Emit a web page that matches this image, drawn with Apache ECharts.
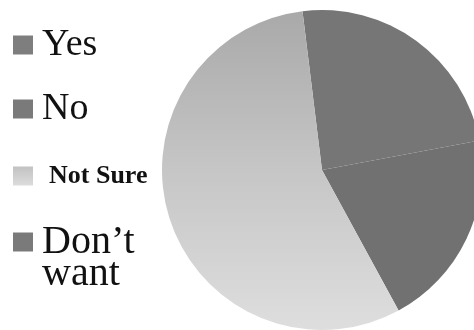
<!DOCTYPE html>
<html>
<head>
<meta charset="utf-8">
<script src="https://cdn.jsdelivr.net/npm/echarts@6/dist/echarts.min.js"></script>
<style>
  html, body { margin: 0; padding: 0; background: #fff; }
  #chart { width: 474px; height: 330px; }
</style>
</head>
<body>
<div id="chart"></div>
<script>
var categories = ['Yes', 'No', 'Not Sure', 'Don’t want'];
var values = [24, 20, 56, 0];
var legendLabels = ['Yes', 'No', 'Not Sure', '\nDon’t\nwant'];
var sliceColors = ['#767676', '#717171', null, '#767676'];
var legendColors = ['#7e7e7e', '#7a7a7a', null, '#7a7a7a'];

var myChart = echarts.init(document.getElementById('chart'));

var notSureFill = {
    type: 'linear', x: 0, y: 0, x2: 0, y2: 1,
    colorStops: [
        { offset: 0, color: '#a9a9a9' },
        { offset: 0.5, color: '#c6c6c6' },
        { offset: 1, color: '#dedede' }
    ]
};
var notSureIcon = {
    type: 'linear', x: 0, y: 0, x2: 0, y2: 1,
    colorStops: [
        { offset: 0, color: '#c2c2c2' },
        { offset: 1, color: '#dcdcdc' }
    ]
};

var serif = '"Liberation Serif", "DejaVu Serif", serif';

// one legend block per item, so each can sit at its own height
function legendFor(i, top, textStyle) {
    return {
        orient: 'vertical',
        left: 13,
        top: top,
        padding: 0,
        icon: 'rect',
        itemWidth: 20,
        itemHeight: 19,
        selectedMode: false,
        data: [{
            name: categories[i],
            itemStyle: { color: legendColors[i] || notSureIcon }
        }],
        formatter: function () { return legendLabels[i]; },
        textStyle: textStyle
    };
}

var option = {
    backgroundColor: '#fff',
    animation: false,
    legend: [
        legendFor(0, 26, { fontFamily: serif, fontSize: 38, lineHeight: 38, color: '#111', padding: [0, 0, 0, 4] }),
        legendFor(1, 90, { fontFamily: serif, fontSize: 38, lineHeight: 38, color: '#111', padding: [0, 0, 0, 4] }),
        legendFor(2, 161, { fontFamily: serif, fontSize: 26, fontWeight: 'bold', lineHeight: 26, color: '#111', padding: [4, 0, 0, 11] }),
        legendFor(3, 190, { fontFamily: serif, fontSize: 40, lineHeight: 32, color: '#111', padding: [0, 0, 0, 4] })
    ],
    series: [{
        type: 'pie',
        center: [322, 170],
        radius: 160,
        startAngle: 97,
        clockwise: true,
        label: { show: false },
        labelLine: { show: false },
        emphasis: { disabled: true },
        itemStyle: { borderWidth: 0 },
        data: categories.map(function (name, i) {
            return {
                name: name,
                value: values[i],
                itemStyle: { color: sliceColors[i] || notSureFill }
            };
        })
    }]
};

myChart.setOption(option);
</script>
</body>
</html>
